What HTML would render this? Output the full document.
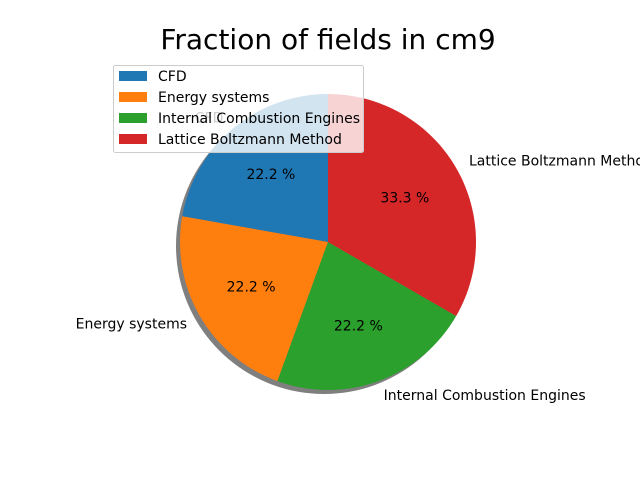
<!DOCTYPE html>
<html><head><meta charset="utf-8"><style>
html,body{margin:0;padding:0;background:#fff}
svg{display:block;font-family:"DejaVu Sans","Liberation Sans",sans-serif}
</style></head><body>
<svg id="chart" width="640" height="480" viewBox="0 0 640 480">
<text x="328" y="49" text-anchor="middle" font-size="28" fill="#000">Fraction of fields in cm9</text>
<g id="shadow"></g>
<g id="slices"></g>
<g id="labels"></g>
<g id="legend"></g>
</svg>
<script>
const categories = ["CFD", "Energy systems", "Internal Combustion Engines", "Lattice Boltzmann Method"];
const values = [2, 2, 2, 3];
const colors = ["#1f77b4", "#ff7f0e", "#2ca02c", "#d62728"];

const NS = "http://www.w3.org/2000/svg";
const cx = 328, cy = 242, R = 148;
function mk(tag, attrs, parent) {
  const e = document.createElementNS(NS, tag);
  for (const k in attrs) e.setAttribute(k, attrs[k]);
  parent.appendChild(e);
  return e;
}
function pt(a, r, ox, oy) {
  const rad = a * Math.PI / 180;
  return [(ox||cx) + r * Math.cos(rad), (oy||cy) - r * Math.sin(rad)];
}
function arc(a0, a1, ox, oy) {
  const p0 = pt(a0, R, ox, oy), p1 = pt(a1, R, ox, oy);
  const large = (a1 - a0) > 180 ? 1 : 0;
  return `M${ox||cx},${oy||cy} L${p0[0]},${p0[1]} A${R},${R} 0 ${large} 0 ${p1[0]},${p1[1]} Z`;
}
const total = values.reduce((a, b) => a + b, 0);
const sh = document.getElementById("shadow");
const sl = document.getElementById("slices");
const lb = document.getElementById("labels");
const lg = document.getElementById("legend");
let a = 90;
const angles = values.map(v => { const s = a; a += v / total * 360; return [s, a]; });
angles.forEach(([a0, a1]) => {
  const p = mk("path", {d: arc(a0, a1, cx - 4, cy + 4), fill: "#000", opacity: "0.5"}, sh);
  
  
});
angles.forEach(([a0, a1], i) => {
  const p = mk("path", {d: arc(a0, a1), fill: colors[i]}, sl);
  
  
  const mid = (a0 + a1) / 2;
  const pp = pt(mid, R * 0.6);
  const t = mk("text", {x: pp[0], y: pp[1] + 5, "text-anchor": "middle", "font-size": "14"}, lb);
  t.textContent = (values[i] / total * 100).toFixed(1) + " %";
  
  
  const lp = pt(mid, R * 1.1);
  const cosm = Math.cos(mid * Math.PI / 180);
  const t2 = mk("text", {x: lp[0], y: lp[1] + 5, "text-anchor": cosm > 0 ? "start" : "end", "font-size": "14"}, lb);
  t2.textContent = categories[i];
  
  
});
const box = mk("rect", {x: 113.5, y: 65.5, width: 250, height: 87, rx: 2, fill: "#fff", "fill-opacity": "0.8", stroke: "#ccc"}, lg);


categories.forEach((c, i) => {
  const y = 76 + i * 21;
  const r = mk("rect", {x: 119, y: y - 5, width: 28, height: 10, fill: colors[i]}, lg);
  
  
  const t = mk("text", {x: 158, y: y + 5, "font-size": "14"}, lg);
  t.textContent = c;
  
  
});
</script>
</body></html>
